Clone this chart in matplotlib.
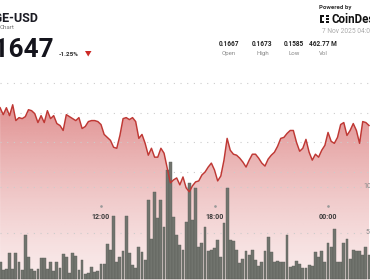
import numpy as np
import pandas as pd
import matplotlib
matplotlib.use("Agg")
import matplotlib.pyplot as plt
import matplotlib.dates as mdates
import matplotlib.transforms as mtransforms
from matplotlib.patches import PathPatch, Polygon, Rectangle

# ---------------- data ----------------
start_time = "2025-11-06 06:40"
prices = [
    0.1675, 0.1668, 0.1675, 0.1667, 0.1678, 0.1662, 0.1665, 0.1664, 0.1666, 0.1673,
    0.1672, 0.1669, 0.1660, 0.1667, 0.1660, 0.1672, 0.1664, 0.1667, 0.1659, 0.1657,
    0.1652, 0.1668, 0.1666, 0.1664, 0.1662, 0.1665, 0.1654, 0.1656, 0.1661, 0.1662,
    0.1662, 0.1661, 0.1658, 0.1648, 0.1645, 0.1642, 0.1635, 0.1634, 0.1647, 0.1664,
    0.1665, 0.1663, 0.1665, 0.1661, 0.1644, 0.1648, 0.1639, 0.1627, 0.1634, 0.1625,
    0.1625, 0.1634, 0.1629, 0.1614, 0.1599, 0.1602, 0.1604, 0.1597, 0.1605, 0.1594,
    0.1590, 0.1596, 0.1600, 0.1601, 0.1607, 0.1610, 0.1615, 0.1619, 0.1612, 0.1601,
    0.1606, 0.1622, 0.1644, 0.1632, 0.1628, 0.1627, 0.1624, 0.1620, 0.1615, 0.1622,
    0.1628, 0.1628, 0.1624, 0.1619, 0.1616, 0.1623, 0.1627, 0.1630, 0.1636, 0.1644,
    0.1645, 0.1649, 0.1652, 0.1652, 0.1640, 0.1631, 0.1634, 0.1643, 0.1630, 0.1622,
    0.1628, 0.1625, 0.1632, 0.1637, 0.1650, 0.1641, 0.1639, 0.1645, 0.1658, 0.1660,
    0.1647, 0.1652, 0.1659, 0.1652, 0.1639, 0.1661, 0.1660, 0.1657,
]
volumes = [
    1.9, 1.0, 1.1, 2.8, 1.1, 2.8, 1.9, 1.0, 4.8, 2.4,
    1.1, 0.9, 1.1, 2.3, 2.3, 1.1, 1.9, 0.9, 1.8, 1.2,
    2.7, 2.4, 0.7, 2.8, 2.5, 1.0, 2.1, 0.5, 0.7, 1.3,
    0.8, 0.9, 1.6, 1.6, 3.8, 3.2, 6.8, 1.9, 2.4, 3.0,
    6.8, 2.8, 1.5, 1.2, 3.5, 2.9, 2.1, 8.6, 4.4, 9.5,
    6.6, 8.6, 5.6, 11.8, 12.7, 6.7, 4.8, 3.7, 3.2, 6.2,
    10.4, 6.4, 9.9, 3.5, 3.9, 5.7, 3.0, 3.2, 3.4, 4.2,
    2.4, 6.1, 9.9, 4.2, 4.1, 3.2, 1.7, 2.2, 3.0, 2.6,
    3.1, 2.1, 1.4, 1.9, 3.0, 4.6, 2.9, 1.9, 2.0, 1.8,
    1.8, 4.8, 1.3, 1.4, 2.0, 1.6, 1.2, 1.2, 1.5, 1.4,
    2.9, 2.4, 3.0, 1.8, 3.9, 3.5, 5.4, 1.9, 1.9, 3.9,
    4.3, 2.2, 3.2, 3.0, 3.0, 2.6, 3.5, 2.6,
]
price_grid = [0.170, 0.167, 0.164, 0.161]
vol_grid = [10, 5]
vol_labels = ["10", "5"]
time_ticks = ["2025-11-06 12:00", "2025-11-06 18:00", "2025-11-07 00:00"]
time_labels = ["12:00", "18:00", "00:00"]
stat_values = ["0.1667", "0.1673", "0.1585", "462.77 M"]
stat_names = ["Open", "High", "Low", "Vol"]

times = pd.date_range(start_time, periods=len(prices), freq="10min")
x = mdates.date2num(times)

# ---------------- figure ----------------
W, H = 370, 280
fig = plt.figure(figsize=(W / 100, H / 100), dpi=100)
fig.patch.set_facecolor("white")

def fx(px):
    return px / W

def fy(py):
    return 1 - py / H

x_lo = mdates.date2num(pd.Timestamp("2025-11-06 06:39:43"))
x_hi = mdates.date2num(pd.Timestamp("2025-11-07 02:13:05"))
p_lo, p_hi = 0.150079, 0.178393
v_lo, v_hi = -0.1087, 30.326

ax_bg = fig.add_axes([0, 0, 1, 1])
ax_v = fig.add_axes([0, 0, 1, 1], sharex=ax_bg)
ax_l = fig.add_axes([0, 0, 1, 1], sharex=ax_bg)
for a in (ax_bg, ax_v, ax_l):
    a.set_axis_off()
    a.patch.set_visible(False)
ax_bg.set_zorder(1)
ax_v.set_zorder(2)
ax_l.set_zorder(3)
ax_bg.set_xlim(x_lo, x_hi)
ax_bg.set_ylim(p_lo, p_hi)
ax_l.set_ylim(p_lo, p_hi)
ax_v.set_ylim(v_lo, v_hi)

# gradient fill under the price line
poly = ax_bg.fill_between(x, prices, p_lo, facecolor="none", edgecolor="none")
path = poly.get_paths()[0]
ny = 256
yy = np.linspace(0, 1, ny)[:, None]  # 0 bottom -> 1 top
alpha = 0.10 + 0.45 * yy ** 1.3
rgba = np.zeros((ny, 2, 4))
rgba[..., 0] = 200 / 255
rgba[..., 1] = 55 / 255
rgba[..., 2] = 55 / 255
rgba[..., 3] = np.repeat(alpha, 2, axis=1)
img = ax_bg.imshow(rgba, extent=[x_lo, x_hi, p_lo, max(prices)], origin="lower",
                   aspect="auto", zorder=1, interpolation="bilinear")
clip = PathPatch(path, transform=ax_bg.transData, facecolor="none", edgecolor="none")
ax_bg.add_patch(clip)
img.set_clip_path(clip)
ax_bg.set_xlim(x_lo, x_hi)
ax_bg.set_ylim(p_lo, p_hi)

dot = (0, (1, 5))
for g in price_grid:
    ax_bg.axhline(g, color="#cccccc", lw=0.8, ls=dot, zorder=2)
for g in vol_grid:
    ax_v.axhline(g, color="#cccccc", lw=0.8, ls=dot, zorder=1)

# volume bars
ax_v.bar(x, volumes, width=9 / 1440, color="#71746e", edgecolor="#5a5d57",
         linewidth=0.3, zorder=2)

# price line
ax_l.plot(x, prices, color="#bf3834", lw=1.05, zorder=3, solid_joinstyle="round")

# time ticks
tr = mtransforms.blended_transform_factory(ax_l.transData, ax_l.transAxes)
for t, lab in zip(time_ticks, time_labels):
    tx = mdates.date2num(pd.Timestamp(t))
    ax_l.plot([tx], [fy(206)], marker="o", ms=0.9, color="#999999", transform=tr)
    ax_l.text(tx, fy(217), lab, transform=tr, ha="center", va="center",
              fontsize=5, fontweight="bold", color="#3a3a3a", family="Roboto")

# volume axis labels (cut at right edge)
trv = mtransforms.blended_transform_factory(ax_v.transAxes, ax_v.transData)
ax_v.text(fx(363), vol_grid[0], vol_labels[0], transform=trv, ha="left", va="center",
          fontsize=5, color="#888888", family="Roboto")
ax_v.text(fx(365.5), vol_grid[1], vol_labels[1], transform=trv, ha="left", va="center",
          fontsize=5, color="#888888", family="Roboto")

# ---------------- header ----------------
fig.text(fx(38.5), fy(22), "DOGE-USD", ha="right", va="baseline", fontsize=9,
         fontweight="bold", color="#1b1b24", family="Roboto")
fig.text(fx(0), fy(29), "Chart", ha="left", va="baseline", fontsize=4.5,
         color="#777777", family="Roboto")
fig.text(fx(54), fy(57.5), "0.1647", ha="right", va="baseline", fontsize=18.8,
         fontweight="bold", color="#14141c", family="Roboto")
fig.text(fx(59), fy(55.5), "-1.25%", ha="left", va="baseline", fontsize=4.6,
         fontweight="bold", color="#333333", family="Roboto")
tri = Polygon([(fx(85), fy(51)), (fx(91.5), fy(51)), (fx(88.2), fy(56.5))],
              closed=True, transform=fig.transFigure, facecolor="#cc2a26",
              edgecolor="none")
fig.patches.append(tri)

fig.text(fx(319), fy(9), "Powered by", ha="left", va="baseline", fontsize=4.4,
         fontweight="bold", color="#333333", family="Roboto")
fig.text(fx(331), fy(23), "CoinDesk", ha="left", va="baseline", fontsize=8.3,
         fontweight="bold", color="#111111", family="Roboto")
for (rx, ry, rw, rh) in [(320, 15, 1.6, 8), (320, 15, 4, 1.6), (320, 21.4, 4, 1.6),
                         (325.5, 15, 3, 1.6), (325.5, 18.2, 3, 1.6), (325.5, 21.4, 3, 1.6)]:
    fig.patches.append(Rectangle((fx(rx), fy(ry + rh)), rw / W, rh / H,
                                 transform=fig.transFigure, facecolor="#111111",
                                 edgecolor="none"))
fig.text(fx(322), fy(33), "7 Nov 2025 04:00", ha="left", va="baseline", fontsize=4.8,
         color="#aaaaaa", family="Roboto")

stat_x = [229, 262.5, 294, 323]
for sx, val, name in zip(stat_x, stat_values, stat_names):
    fig.text(fx(sx), fy(46), val, ha="center", va="baseline", fontsize=4.7,
             fontweight="bold", color="#222222", family="Roboto")
    fig.text(fx(sx), fy(55), name, ha="center", va="baseline", fontsize=4.4,
             color="#888888", family="Roboto")

fig.savefig("out.png", dpi=100, facecolor="white")
